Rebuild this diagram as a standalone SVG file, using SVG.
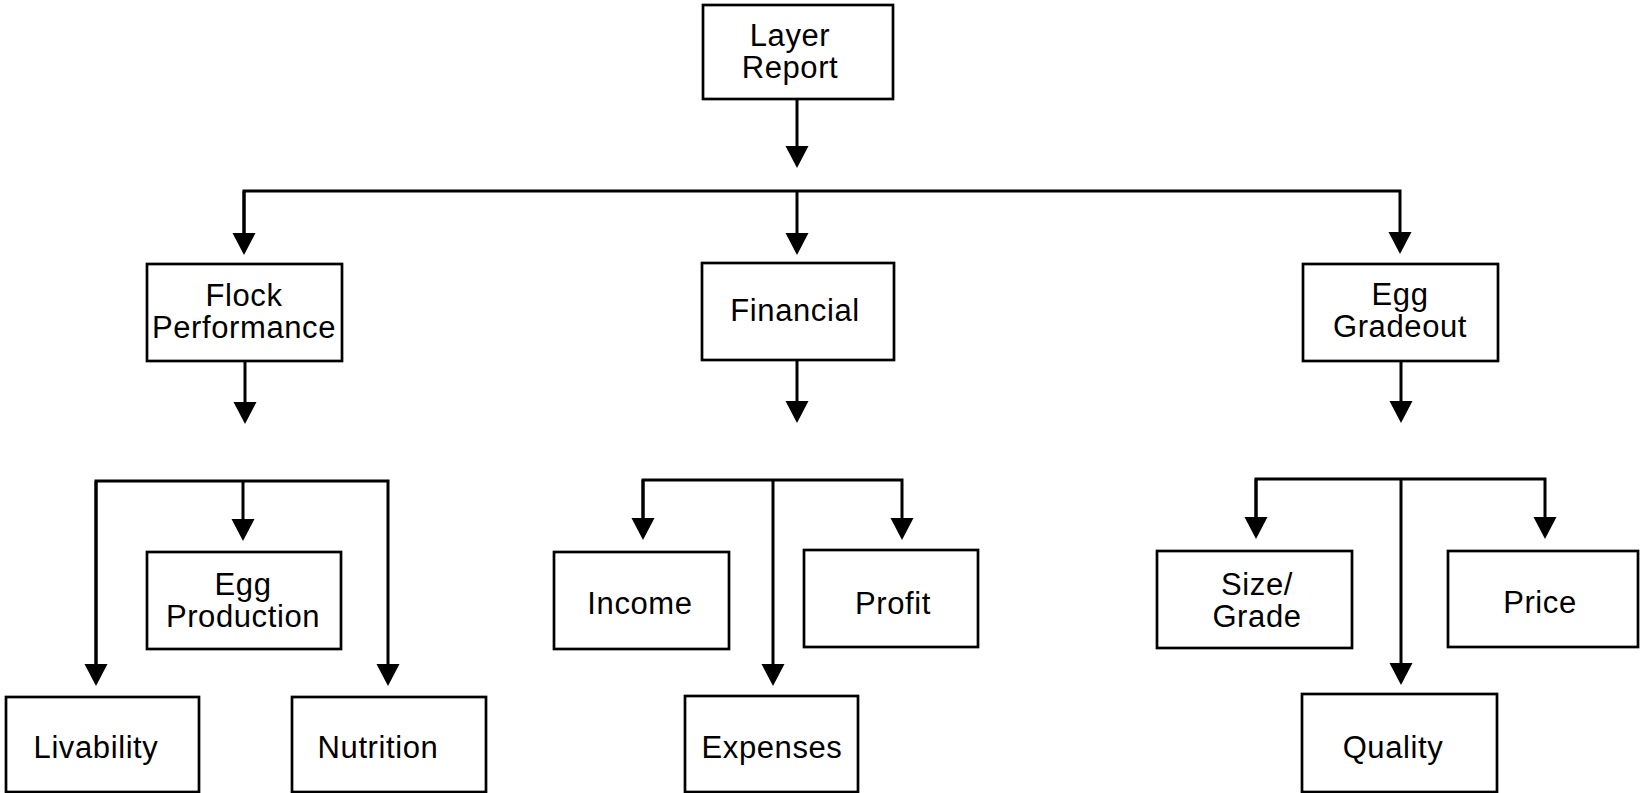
<svg xmlns="http://www.w3.org/2000/svg" width="1641" height="793" viewBox="0 0 1641 793">
<style>
.box{fill:#fff;stroke:#000;stroke-width:2.7}
.lbl{font-family:"Liberation Sans",Arial,Helvetica,sans-serif;font-size:31px;letter-spacing:0.6px;fill:#000;text-anchor:middle}
.con{fill:none;stroke:#000;stroke-width:3}
</style>
<defs>
<marker id="ah" markerUnits="userSpaceOnUse" viewBox="0 -12 22 24" refX="12" refY="0" markerWidth="22" markerHeight="24" orient="auto">
<path d="M0,-11.5 L22,0 L0,11.5 Z" fill="#000"/>
</marker>
</defs>
<g id="connectors">
<path class="con" d="M797,99 V158" marker-end="url(#ah)"/>
<path class="con" d="M244,245 V191 H1400 V244" marker-end="url(#ah)"/>
<path class="con" d="M797,191 V245" marker-end="url(#ah)"/>
<path class="con" d="M244,191 V245" marker-end="url(#ah)"/>
<path class="con" d="M245,361 V414" marker-end="url(#ah)"/>
<path class="con" d="M797,360 V413" marker-end="url(#ah)"/>
<path class="con" d="M1401,361 V413" marker-end="url(#ah)"/>
<path class="con" d="M96,676 V481 H388 V676" marker-end="url(#ah)"/>
<path class="con" d="M96,481 V676" marker-end="url(#ah)"/>
<path class="con" d="M243,481 V531" marker-end="url(#ah)"/>
<path class="con" d="M643,530 V480 H902 V530" marker-end="url(#ah)"/>
<path class="con" d="M643,480 V530" marker-end="url(#ah)"/>
<path class="con" d="M773,480 V676" marker-end="url(#ah)"/>
<path class="con" d="M1256,529 V479 H1545 V529" marker-end="url(#ah)"/>
<path class="con" d="M1256,479 V529" marker-end="url(#ah)"/>
<path class="con" d="M1401,479 V675" marker-end="url(#ah)"/>
</g>
<g id="layer-report"><rect class="box" x="703" y="5" width="190" height="94"/><text class="lbl" x="790" y="46">Layer</text><text class="lbl" x="790" y="78">Report</text></g>
<g id="flock-performance"><rect class="box" x="147" y="264" width="195" height="97"/><text class="lbl" x="244" y="306">Flock</text><text class="lbl" x="244" y="338">Performance</text></g>
<g id="financial"><rect class="box" x="702" y="263" width="192" height="97"/><text class="lbl" x="795" y="321">Financial</text></g>
<g id="egg-gradeout"><rect class="box" x="1303" y="264" width="195" height="97"/><text class="lbl" x="1400" y="305">Egg</text><text class="lbl" x="1400" y="337">Gradeout</text></g>
<g id="egg-production"><rect class="box" x="147" y="552" width="194" height="97"/><text class="lbl" x="243" y="595">Egg</text><text class="lbl" x="243" y="627">Production</text></g>
<g id="livability"><rect class="box" x="6" y="697" width="193" height="95"/><text class="lbl" x="96" y="758">Livability</text></g>
<g id="nutrition"><rect class="box" x="292" y="697" width="194" height="95"/><text class="lbl" x="378" y="758">Nutrition</text></g>
<g id="income"><rect class="box" x="554" y="552" width="175" height="97"/><text class="lbl" x="640" y="614">Income</text></g>
<g id="profit"><rect class="box" x="804" y="550" width="174" height="97"/><text class="lbl" x="893" y="614">Profit</text></g>
<g id="expenses"><rect class="box" x="685" y="696" width="173" height="96"/><text class="lbl" x="772" y="758">Expenses</text></g>
<g id="size-grade"><rect class="box" x="1157" y="551" width="195" height="97"/><text class="lbl" x="1257" y="595">Size/</text><text class="lbl" x="1257" y="627">Grade</text></g>
<g id="price"><rect class="box" x="1448" y="551" width="190" height="96"/><text class="lbl" x="1540" y="613">Price</text></g>
<g id="quality"><rect class="box" x="1302" y="694" width="195" height="98"/><text class="lbl" x="1393" y="758">Quality</text></g>
</svg>
